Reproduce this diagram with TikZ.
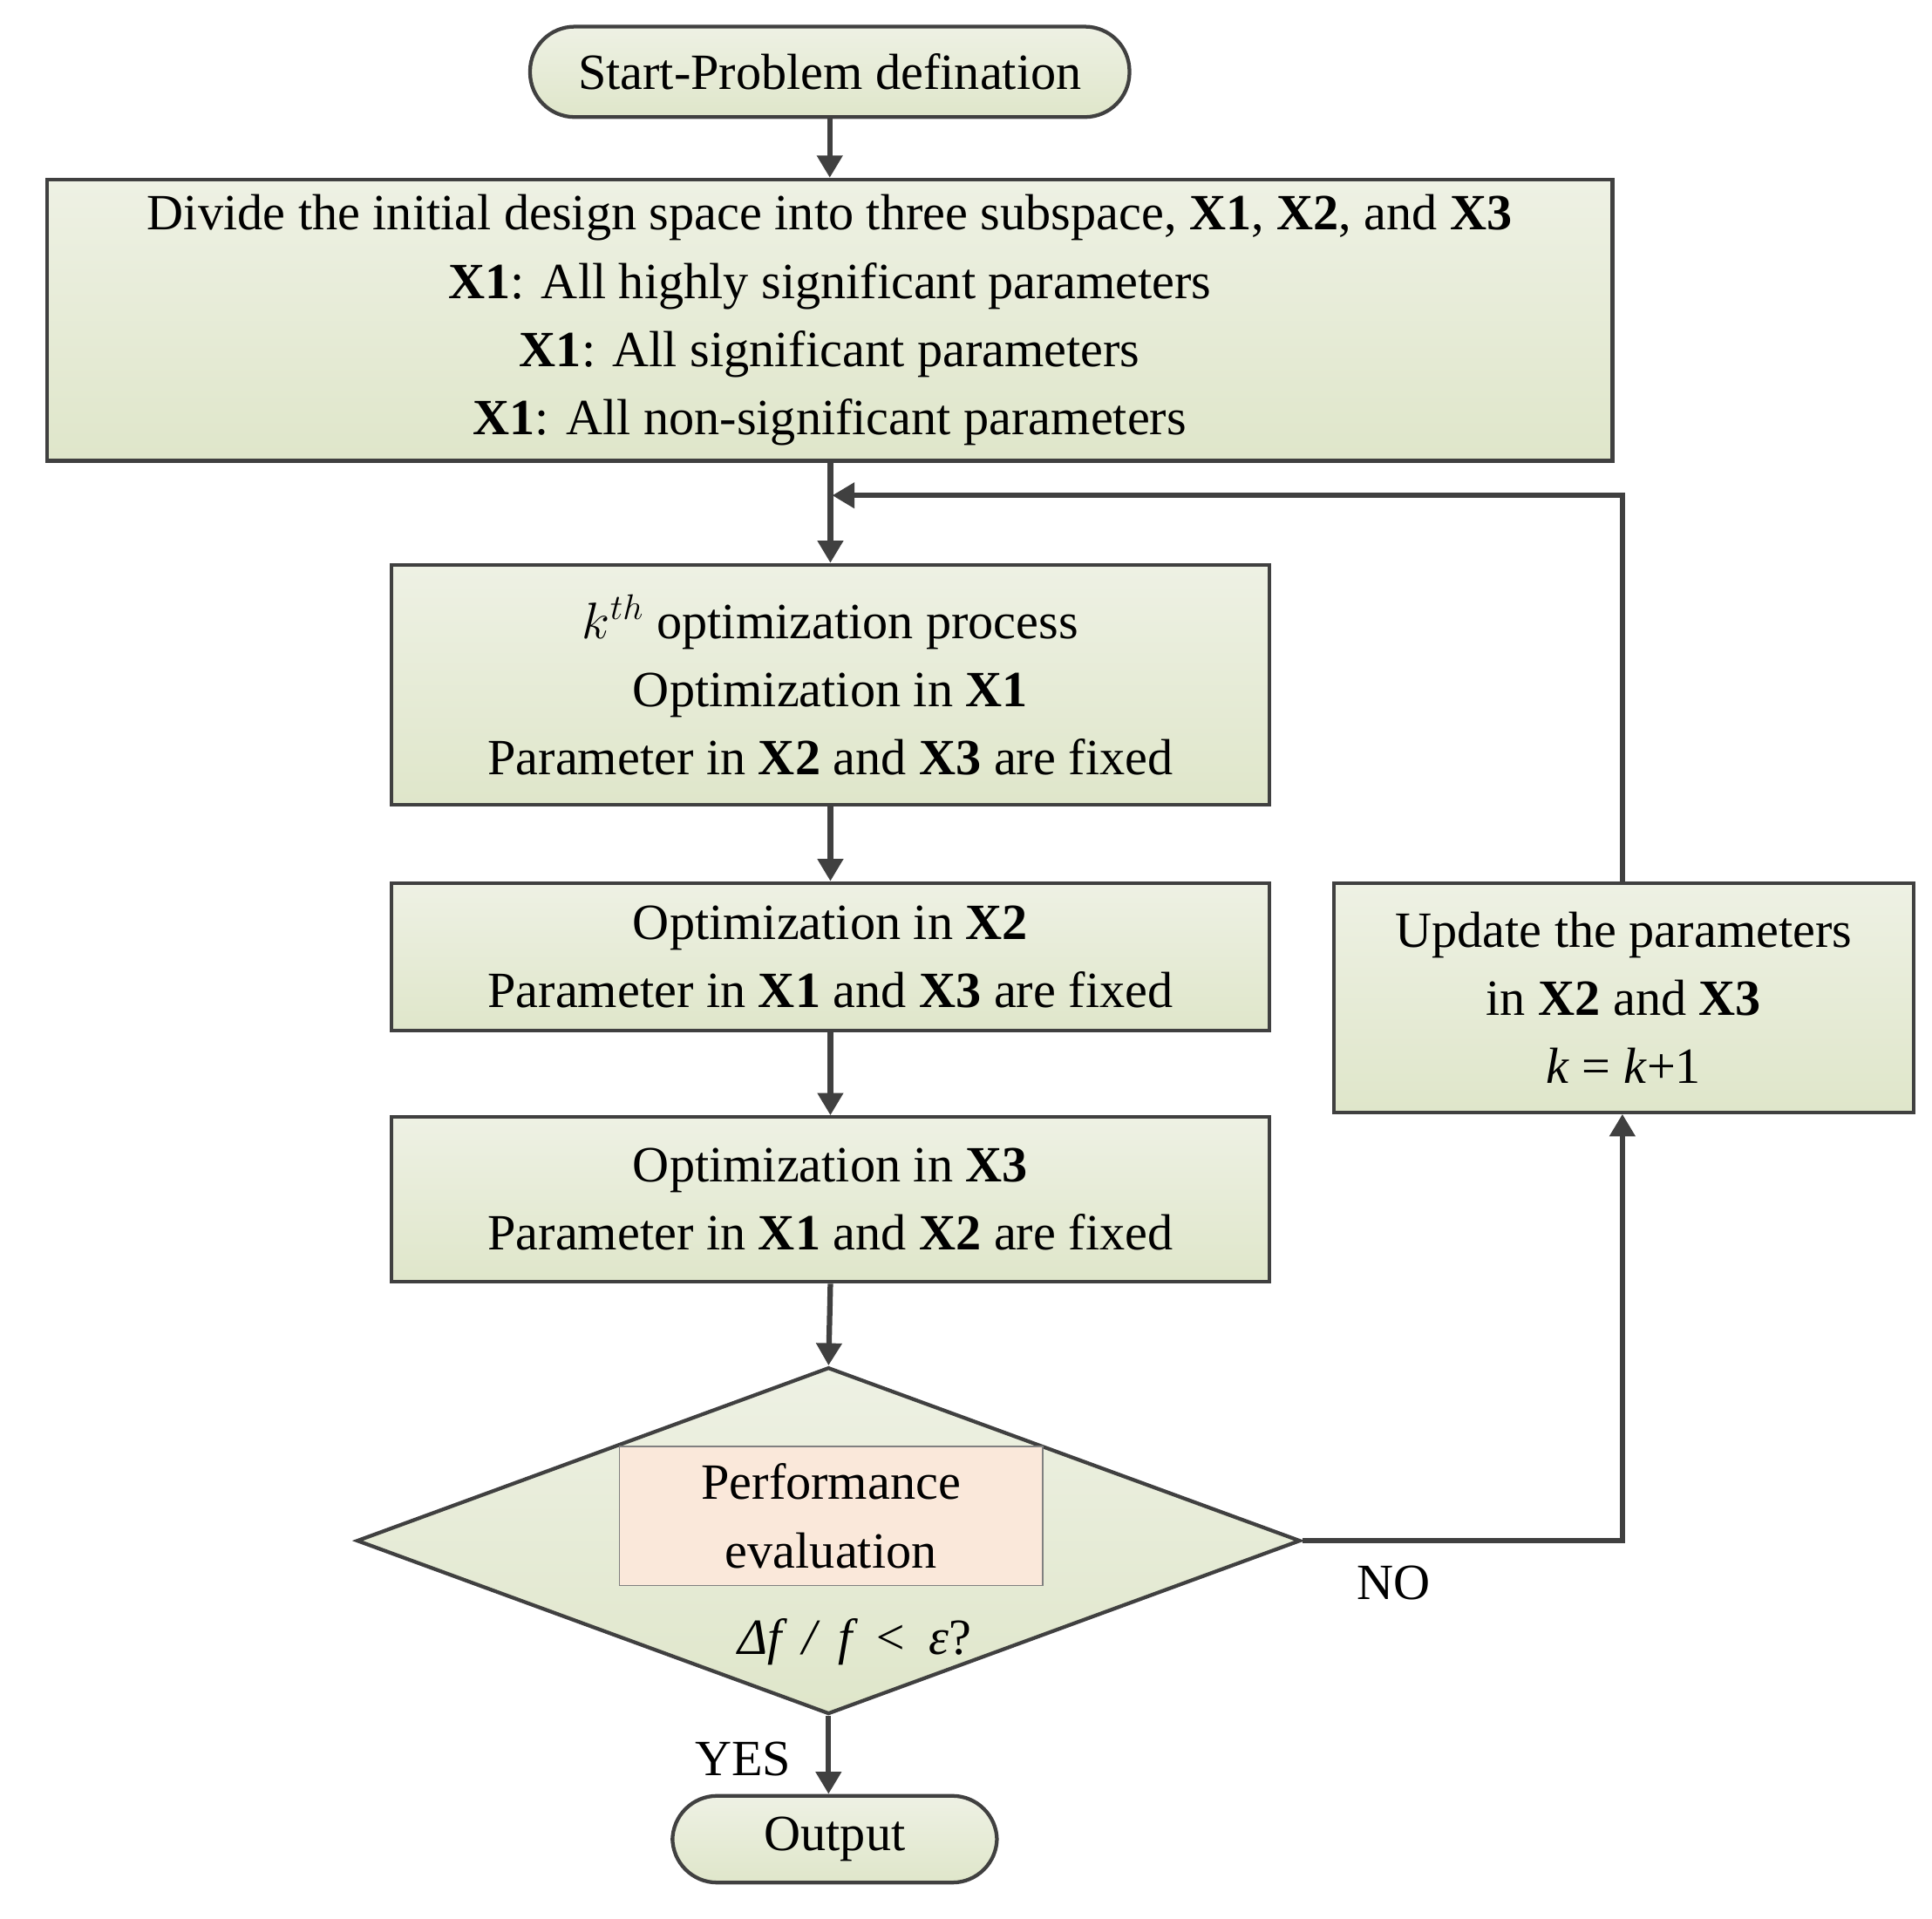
\documentclass[tikz,border=0pt]{standalone}
\usepackage{fontspec}
\setmainfont{Liberation Serif}
\usetikzlibrary{shapes.geometric,arrows.meta}
\definecolor{ln}{HTML}{404040}
\definecolor{gtop}{HTML}{EEF1E4}
\definecolor{gbot}{HTML}{DFE6CA}
\definecolor{peach}{HTML}{FAE8DA}
\begin{document}
\begin{tikzpicture}[x=0.5pt,y=-0.5pt,
  every node/.style={font=\fontsize{20.5}{27.5}\selectfont, align=center},
  box/.style={draw=ln,line width=1.5pt,top color=gtop,bottom color=gbot,inner sep=0pt},
  term/.style={box,rounded corners=18pt},
  arr/.style={draw=ln,line width=2.2pt,-{Triangle[length=9pt,width=10pt]}},
  ln/.style={draw=ln,line width=2.2pt}]
\useasboundingbox (0,0) rectangle (1560,1549);
\node[term,minimum width=242pt,minimum height=36.5pt] (start) at (670,58) {Start-Problem defination};
\node[box,minimum width=632pt,minimum height=113.5pt] (div) at (670,258.5) {Divide the initial design space into three subspace, \textbf{X1}, \textbf{X2}, and \textbf{X3}\\
\textbf{X1}: All highly significant parameters\\ \textbf{X1}: All significant parameters\\ \textbf{X1}: All non-significant parameters};
\node[box,minimum width=354.5pt,minimum height=97pt] (k) at (670.5,553) {$k^{th}$ optimization process\\ Optimization in \textbf{X1}\\ Parameter in \textbf{X2} and \textbf{X3} are fixed};
\node[box,minimum width=354.5pt,minimum height=59.5pt] (o2) at (670.5,772.5) {Optimization in \textbf{X2}\\ Parameter in \textbf{X1} and \textbf{X3} are fixed};
\node[box,minimum width=354.5pt,minimum height=66.5pt] (o3) at (670.5,968.5) {Optimization in \textbf{X3}\\ Parameter in \textbf{X1} and \textbf{X2} are fixed};
\node[draw=ln,line width=1.5pt,top color=gtop,bottom color=gbot,diamond,inner sep=0pt,minimum width=381pt,minimum height=140pt] (dia) at (669,1244) {};
\node[draw=gray,line width=0.5pt,fill=peach,minimum width=171pt,minimum height=56pt,inner sep=0pt] (pe) at (671,1224) {Performance\\ evaluation};
\node (cond) at (690,1326) {\itshape Δf \,/\, f \,<\, ε\upshape ?};
\node[term,minimum width=131pt,minimum height=35pt] (out) at (674,1485) {Output};
\node[box,minimum width=234pt,minimum height=92.5pt] (up) at (1311,805.5) {Update the parameters\\ in \textbf{X2} and \textbf{X3}\\ \textit{k} = \textit{k}+1};
\node (no) at (1125,1278) {NO};
\node (yes) at (600,1420) {YES};
\coordinate (c1) at (1310,1244);
\coordinate (c2) at (1310,400);
\coordinate (c3) at (672,400);
\draw[arr] (start) -- (div);
\draw[arr] (div.south -| k.north) -- (k);
\draw[arr] (k) -- (o2);
\draw[arr] (o2) -- (o3);
\draw[arr] (o3.south) -- (dia.north);
\draw[arr] (dia.south) -- (dia.south |- out.north);
\draw[arr] (dia.east) -- (c1) -- (up.south -| c1);
\draw[arr] (up.north -| c2) -- (c2) -- (c3);
\end{tikzpicture}
\end{document}
